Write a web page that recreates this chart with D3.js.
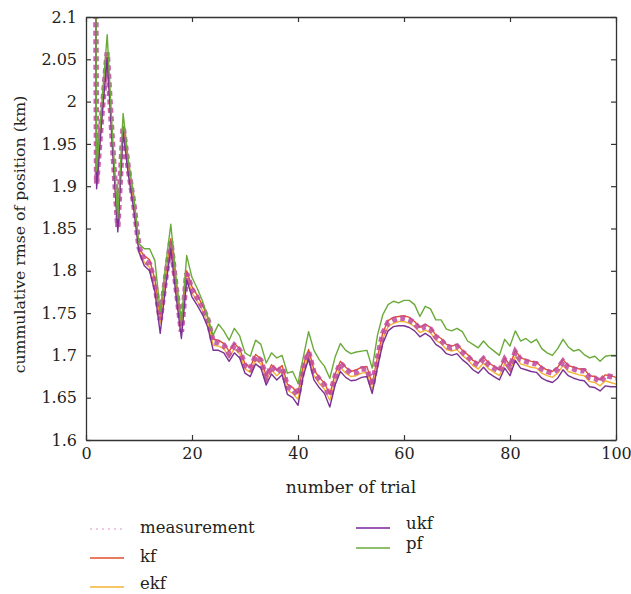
<!DOCTYPE html>
<html>
<head>
<meta charset="utf-8">
<script src="https://cdn.jsdelivr.net/npm/d3@7"></script>
<style>
  body { margin: 0; background: #fff; }
  svg text { font-family: "DejaVu Serif", "Liberation Serif", "Times New Roman", serif; fill: #231f20; }
</style>
</head>
<body>
<div id="chart"></div>
<script>
	var width = 631,
		height = 594;

	// trial numbers 1..100
	var trials = d3.range(1, 101);

	var xTicks = [0, 20, 40, 60, 80, 100];
	var yTicks = [1.6, 1.65, 1.7, 1.75, 1.8, 1.85, 1.9, 1.95, 2, 2.05, 2.1];

	// values
	var measurement = [3.40, 1.903, 1.985, 2.058, 1.950, 1.852, 1.970, 1.920, 1.880, 1.828,
		1.812, 1.808, 1.785, 1.742, 1.790, 1.835, 1.780, 1.728, 1.797, 1.778,
		1.768, 1.757, 1.742, 1.716, 1.715, 1.712, 1.702, 1.712, 1.706, 1.688,
		1.684, 1.699, 1.694, 1.674, 1.687, 1.680, 1.686, 1.663, 1.660, 1.653,
		1.686, 1.704, 1.680, 1.672, 1.665, 1.652, 1.675, 1.691, 1.684, 1.679,
		1.680, 1.684, 1.684, 1.664, 1.697, 1.726, 1.739, 1.742, 1.744, 1.744,
		1.742, 1.738, 1.731, 1.734, 1.731, 1.722, 1.718, 1.711, 1.709, 1.711,
		1.704, 1.699, 1.692, 1.689, 1.696, 1.689, 1.685, 1.681, 1.695, 1.686,
		1.704, 1.695, 1.693, 1.691, 1.690, 1.684, 1.681, 1.679, 1.684, 1.693,
		1.686, 1.684, 1.682, 1.682, 1.674, 1.673, 1.669, 1.676, 1.675, 1.673];

	var kf = [3.40, 1.904, 1.986, 2.058, 1.951, 1.853, 1.971, 1.921, 1.881, 1.826,
		1.818, 1.813, 1.790, 1.744, 1.792, 1.838, 1.783, 1.730, 1.800, 1.781,
		1.771, 1.759, 1.745, 1.719, 1.718, 1.714, 1.705, 1.714, 1.708, 1.690,
		1.686, 1.701, 1.696, 1.676, 1.689, 1.682, 1.688, 1.666, 1.662, 1.655,
		1.688, 1.707, 1.683, 1.674, 1.667, 1.654, 1.678, 1.693, 1.686, 1.681,
		1.683, 1.686, 1.687, 1.666, 1.698, 1.727, 1.741, 1.745, 1.746, 1.747,
		1.745, 1.740, 1.733, 1.737, 1.733, 1.724, 1.720, 1.713, 1.711, 1.713,
		1.706, 1.701, 1.694, 1.691, 1.698, 1.691, 1.687, 1.683, 1.697, 1.688,
		1.706, 1.697, 1.695, 1.693, 1.692, 1.686, 1.683, 1.681, 1.686, 1.695,
		1.688, 1.686, 1.684, 1.684, 1.676, 1.675, 1.671, 1.677, 1.676, 1.674];

	var ekf = [3.39, 1.901, 1.983, 2.055, 1.948, 1.850, 1.967, 1.917, 1.877, 1.824,
		1.810, 1.804, 1.780, 1.738, 1.786, 1.831, 1.776, 1.725, 1.793, 1.774,
		1.764, 1.753, 1.738, 1.712, 1.711, 1.708, 1.698, 1.708, 1.702, 1.684,
		1.680, 1.695, 1.690, 1.670, 1.683, 1.676, 1.682, 1.659, 1.655, 1.648,
		1.681, 1.700, 1.676, 1.667, 1.660, 1.647, 1.670, 1.686, 1.679, 1.675,
		1.676, 1.679, 1.680, 1.659, 1.692, 1.720, 1.734, 1.738, 1.740, 1.740,
		1.738, 1.734, 1.727, 1.730, 1.727, 1.718, 1.714, 1.707, 1.705, 1.707,
		1.700, 1.695, 1.688, 1.684, 1.691, 1.684, 1.680, 1.676, 1.690, 1.681,
		1.699, 1.690, 1.688, 1.686, 1.685, 1.679, 1.676, 1.674, 1.679, 1.688,
		1.681, 1.679, 1.677, 1.676, 1.669, 1.668, 1.664, 1.670, 1.668, 1.666];

	var ukf = [3.38, 1.897, 1.980, 2.052, 1.944, 1.846, 1.964, 1.913, 1.873, 1.822,
		1.806, 1.800, 1.775, 1.726, 1.780, 1.826, 1.770, 1.720, 1.789, 1.769,
		1.759, 1.748, 1.733, 1.706, 1.706, 1.703, 1.693, 1.703, 1.697, 1.679,
		1.675, 1.690, 1.685, 1.665, 1.678, 1.671, 1.677, 1.654, 1.650, 1.641,
		1.676, 1.696, 1.671, 1.662, 1.655, 1.639, 1.665, 1.681, 1.674, 1.670,
		1.671, 1.674, 1.675, 1.655, 1.686, 1.714, 1.729, 1.734, 1.735, 1.735,
		1.733, 1.729, 1.722, 1.726, 1.722, 1.713, 1.709, 1.702, 1.700, 1.702,
		1.695, 1.690, 1.683, 1.679, 1.686, 1.679, 1.675, 1.671, 1.685, 1.676,
		1.694, 1.685, 1.683, 1.681, 1.680, 1.673, 1.670, 1.668, 1.673, 1.683,
		1.676, 1.673, 1.671, 1.670, 1.663, 1.662, 1.658, 1.664, 1.663, 1.663];

	var pf = [3.40, 1.918, 2.000, 2.079, 1.960, 1.862, 1.986, 1.930, 1.890, 1.832,
		1.826, 1.826, 1.812, 1.752, 1.805, 1.855, 1.792, 1.740, 1.818, 1.792,
		1.779, 1.764, 1.744, 1.724, 1.737, 1.729, 1.718, 1.732, 1.723, 1.703,
		1.699, 1.718, 1.713, 1.691, 1.703, 1.697, 1.700, 1.679, 1.681, 1.667,
		1.698, 1.728, 1.706, 1.695, 1.687, 1.673, 1.698, 1.714, 1.706, 1.702,
		1.704, 1.705, 1.706, 1.685, 1.724, 1.748, 1.760, 1.764, 1.762, 1.765,
		1.765, 1.760, 1.746, 1.758, 1.755, 1.742, 1.742, 1.731, 1.729, 1.732,
		1.728, 1.717, 1.713, 1.709, 1.717, 1.710, 1.705, 1.700, 1.719, 1.711,
		1.729, 1.717, 1.720, 1.715, 1.719, 1.708, 1.703, 1.700, 1.708, 1.719,
		1.710, 1.705, 1.707, 1.701, 1.697, 1.699, 1.693, 1.699, 1.700, 1.700];

	var seriesNames = ["kf", "ekf", "measurement", "ukf", "pf"];
	var seriesValues = {measurement: measurement, kf: kf, ekf: ekf, ukf: ukf, pf: pf};
	var colors = {
		measurement: "#c04a9f",
		kf: "#e2512b",
		ekf: "#f3b334",
		ukf: "#7b3294",
		pf: "#6aaa3a"
	};

	var margin = {left: 86, top: 17, right: 15, bottom: 154};
	var plotW = width - margin.left - margin.right,
		plotH = height - margin.top - margin.bottom;

	var svg = d3.select("#chart")
		.append("svg")
		.attr("width", width)
		.attr("height", height);

	var g = svg.append("g")
		.attr("transform", "translate(" + margin.left + "," + margin.top + ")");

	var x = d3.scaleLinear().domain([0, 100]).range([0, plotW]);
	var y = d3.scaleLinear().domain([1.6, 2.1]).range([plotH, 0]);

	g.append("clipPath")
		.attr("id", "plot-clip")
		.append("rect")
		.attr("width", plotW)
		.attr("height", plotH);

	var line = d3.line()
		.x(function(d, i) { return x(trials[i]); })
		.y(function(d) { return y(d); });

	var lines = g.append("g").attr("clip-path", "url(#plot-clip)");

	seriesNames.forEach(function(name) {
		var path = lines.append("path")
			.datum(seriesValues[name])
			.attr("fill", "none")
			.attr("stroke", colors[name])
			.attr("d", line);
		if (name === "measurement") {
			// fat dotted squares
			path.attr("stroke-width", 5.5)
				.attr("stroke-dasharray", "5,3.5")
				.attr("opacity", 0.85);
		} else {
			path.attr("stroke-width", 1.4)
				.attr("stroke-linejoin", "round");
		}
	});

	// axes, ticks inside on all four sides
	var axisColor = "#333";

	var xAxis = g.append("g")
		.attr("transform", "translate(0," + plotH + ")")
		.call(d3.axisBottom(x).tickValues(xTicks).tickSizeInner(-5).tickSizeOuter(0).tickPadding(8));
	var yAxis = g.append("g")
		.call(d3.axisLeft(y).tickValues(yTicks).tickFormat(function(d) { return String(d); })
			.tickSizeInner(-5).tickSizeOuter(0).tickPadding(9));
	var xTop = g.append("g")
		.call(d3.axisTop(x).tickValues(xTicks).tickSizeInner(-5).tickSizeOuter(0).tickFormat(""));
	var yRight = g.append("g")
		.attr("transform", "translate(" + plotW + ",0)")
		.call(d3.axisRight(y).tickValues(yTicks).tickSizeInner(-5).tickSizeOuter(0).tickFormat(""));

	[xAxis, yAxis, xTop, yRight].forEach(function(a) {
		a.attr("font-family", null);
		a.selectAll("path").attr("stroke", axisColor).attr("stroke-width", 1.3);
		a.selectAll("line").attr("stroke", axisColor).attr("stroke-width", 1.2);
		a.selectAll("text")
			.attr("font-size", 16)
			.attr("fill", "#231f20");
	});

	// axis titles
	svg.append("text")
		.attr("x", margin.left + plotW / 2)
		.attr("y", 493)
		.attr("text-anchor", "middle")
		.attr("font-size", 17)
		.text("number of trial");

	svg.append("text")
		.attr("transform", "translate(25," + (margin.top + plotH / 2 + 6) + ") rotate(-90)")
		.attr("text-anchor", "middle")
		.attr("font-size", 15.7)
		.text("cummulative rmse of position (km)");

	// legend - two columns like the original
	var legendItems = [
		{name: "measurement", lx: 90, ly: 529, ty: 533},
		{name: "kf", lx: 90, ly: 558, ty: 562},
		{name: "ekf", lx: 90, ly: 587, ty: 589},
		{name: "ukf", lx: 356, ly: 528, ty: 529},
		{name: "pf", lx: 356, ly: 548, ty: 549}
	];

	var legend = svg.append("g");
	legendItems.forEach(function(it) {
		var l = legend.append("line")
			.attr("x1", it.lx)
			.attr("x2", it.lx + 34)
			.attr("y1", it.ly)
			.attr("y2", it.ly)
			.attr("stroke", it.name === "ukf" ? "#9b59b6" : colors[it.name]);
		if (it.name === "measurement") {
			l.attr("stroke", "#e08fcf").attr("stroke-width", 1.2).attr("stroke-dasharray", "2,4");
		} else {
			l.attr("stroke-width", it.name === "ukf" ? 2 : 1.4);
		}
		legend.append("text")
			.attr("x", it.lx + 50)
			.attr("y", it.ty)
			.attr("font-size", 16.5)
			.text(it.name);
	});
</script>
</body>
</html>
